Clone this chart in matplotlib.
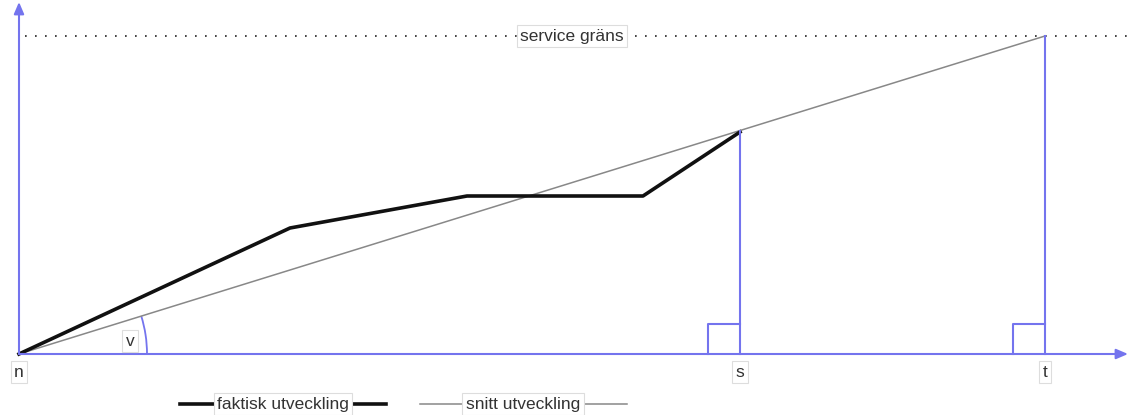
import numpy as np
import matplotlib
matplotlib.use("Agg")
import matplotlib.pyplot as plt
from matplotlib.patches import Arc

AXIS_COLOR = "#7474ee"

# point names on the time axis and their positions
tick_names = ["n", "s", "t"]
tick_x = [0, 721, 1026]

# service limit
limit_y = 318
limit_label = "service gräns"

# actual development (faktisk utveckling)
actual_x = [0, 271, 448, 624, 721]
actual_y = [0, 126, 158, 158, 222]

# average development (snitt utveckling)
avg_x = [0, 1026]
avg_y = [0, 318]

legend_labels = ["faktisk utveckling", "snitt utveckling"]


def box_text(ax, x, y, s, size=12.5):
    ax.text(x, y, s, ha="center", va="center", fontsize=size, color="#333333",
            family="Liberation Sans",
            bbox=dict(boxstyle="square,pad=0.2", fc="white", ec="#dddddd", lw=0.8))


def main():
    fig = plt.figure(figsize=(11.28, 4.15), dpi=100)
    ax = fig.add_axes([0, 0, 1, 1])
    ax.set_xlim(-19, 1109)
    ax.set_ylim(-61, 354)
    ax.axis("off")

    # axes with arrows
    ax.annotate("", xy=(1109, 0), xytext=(0, 0),
                arrowprops=dict(arrowstyle="-|>,head_length=0.7,head_width=0.3",
                                color=AXIS_COLOR, lw=1.5, shrinkA=0, shrinkB=0))
    ax.annotate("", xy=(0, 352), xytext=(0, 0),
                arrowprops=dict(arrowstyle="-|>,head_length=0.7,head_width=0.3",
                                color=AXIS_COLOR, lw=1.5, shrinkA=0, shrinkB=0))

    # service limit
    ax.plot([6, 1109], [limit_y, limit_y], color="#222222", lw=1.2,
            linestyle=(0, (1, 5)))
    box_text(ax, 553, limit_y, limit_label)

    # average line
    ax.plot(avg_x, avg_y, color="#888888", lw=1.1)
    # actual line
    ax.plot(actual_x, actual_y, color="#111111", lw=2.6)

    # verticals at s and t up to the average line
    slope = (avg_y[1] - avg_y[0]) / (avg_x[1] - avg_x[0])
    for x in tick_x[1:]:
        ax.plot([x, x], [0, slope * x], color=AXIS_COLOR, lw=1.5)
        ax.plot([x - 32, x - 32, x], [0, 30, 30], color=AXIS_COLOR, lw=1.5)

    # angle arc
    ang = np.degrees(np.arctan(slope))
    ax.add_patch(Arc((0, 0), 256, 256, theta1=0, theta2=ang,
                     color=AXIS_COLOR, lw=1.3))
    box_text(ax, 111, 13, "v")

    for name, x in zip(tick_names, tick_x):
        box_text(ax, x, -18, name)

    # legend
    ax.plot([161, 367], [-50, -50], color="#111111", lw=2.6)
    box_text(ax, 264, -50, legend_labels[0])
    ax.plot([401, 608], [-50, -50], color="#888888", lw=1.1)
    box_text(ax, 504, -50, legend_labels[1])

    fig.savefig("out.png", dpi=100)


if __name__ == "__main__":
    main()
